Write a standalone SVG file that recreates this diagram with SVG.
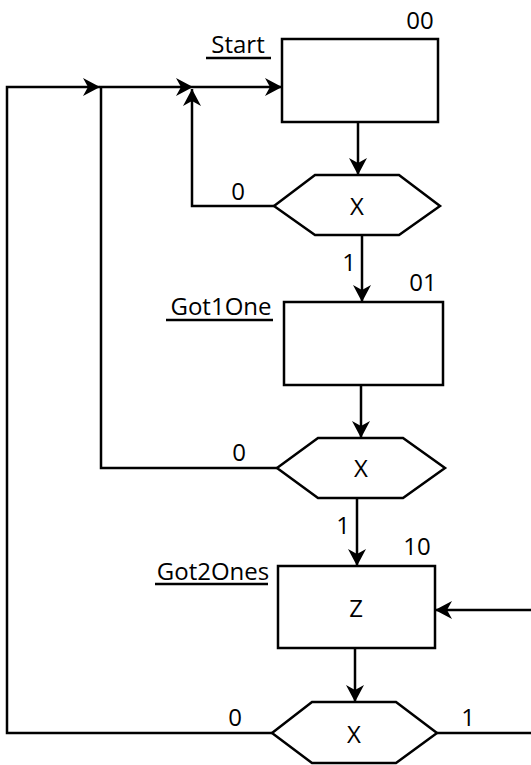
<svg xmlns="http://www.w3.org/2000/svg" width="531" height="765" viewBox="0 0 531 765">
<style>
.box{fill:#fff;stroke:#000;stroke-width:2.5}
.con{fill:none;stroke:#000;stroke-width:2.5}
.t{font-family:"Open Sans","Noto Sans",sans-serif;font-size:24px;font-weight:500;fill:#000;text-anchor:middle}
.ul{stroke:#000;stroke-width:2.5}
</style>
<defs>
<marker id="ah" viewBox="-18 -10 19 20" markerWidth="19" markerHeight="20" refX="0" refY="0" orient="auto" markerUnits="userSpaceOnUse">
<path d="M0,0 L-17,-9 L-12,0 L-17,9 Z" fill="#000"/>
</marker>
</defs>
<rect width="531" height="765" fill="#fff"/>
<g id="connectors">
<path class="con" d="M272,733 H7 V87 H100" marker-end="url(#ah)"/>
<path class="con" d="M277,468 H101 V87 H193" marker-end="url(#ah)"/>
<path class="con" d="M274,206 H192 V89" marker-end="url(#ah)"/>
<path class="con" d="M193,87 H282" marker-end="url(#ah)"/>
<path class="con" d="M358,122 V175" marker-end="url(#ah)"/>
<path class="con" d="M362,235 V302" marker-end="url(#ah)"/>
<path class="con" d="M361,385 V438" marker-end="url(#ah)"/>
<path class="con" d="M357,498 V566" marker-end="url(#ah)"/>
<path class="con" d="M355,648 V702" marker-end="url(#ah)"/>
<path class="con" d="M531,610 H435" marker-end="url(#ah)"/>
<path class="con" d="M437,733 H531"/>
<text class="t" x="238" y="200">0</text>
<text class="t" x="349" y="271">1</text>
<text class="t" x="239" y="461">0</text>
<text class="t" x="343" y="534">1</text>
<text class="t" x="235" y="726">0</text>
<text class="t" x="468" y="726">1</text>
</g>
<g id="start">
<rect class="box" x="282" y="39" width="156" height="83"/>
<text class="t" x="420" y="29">00</text>
<text class="t" x="238" y="53">Start</text>
<line class="ul" x1="206" y1="58" x2="271" y2="58"/>
</g>
<g id="dec1">
<polygon class="box" points="274,206 315,175 399,175 440,206 399,235 315,235"/>
<text class="t" x="357" y="215">X</text>
</g>
<g id="got1one">
<rect class="box" x="284" y="302" width="159" height="83"/>
<text class="t" x="423" y="291">01</text>
<text class="t" x="221" y="315">Got1One</text>
<line class="ul" x1="166" y1="320" x2="273" y2="320"/>
</g>
<g id="dec2">
<polygon class="box" points="277,468 318,438 403,438 445,468 403,498 318,498"/>
<text class="t" x="361" y="477">X</text>
</g>
<g id="got2ones">
<rect class="box" x="278" y="566" width="157" height="82"/>
<text class="t" x="417" y="555">10</text>
<text class="t" x="213" y="580">Got2Ones</text>
<line class="ul" x1="155" y1="584" x2="268" y2="584"/>
<text class="t" x="356" y="617">Z</text>
</g>
<g id="dec3">
<polygon class="box" points="272,733 312,702 396,702 437,733 396,763 312,763"/>
<text class="t" x="354" y="743">X</text>
</g>
</svg>
